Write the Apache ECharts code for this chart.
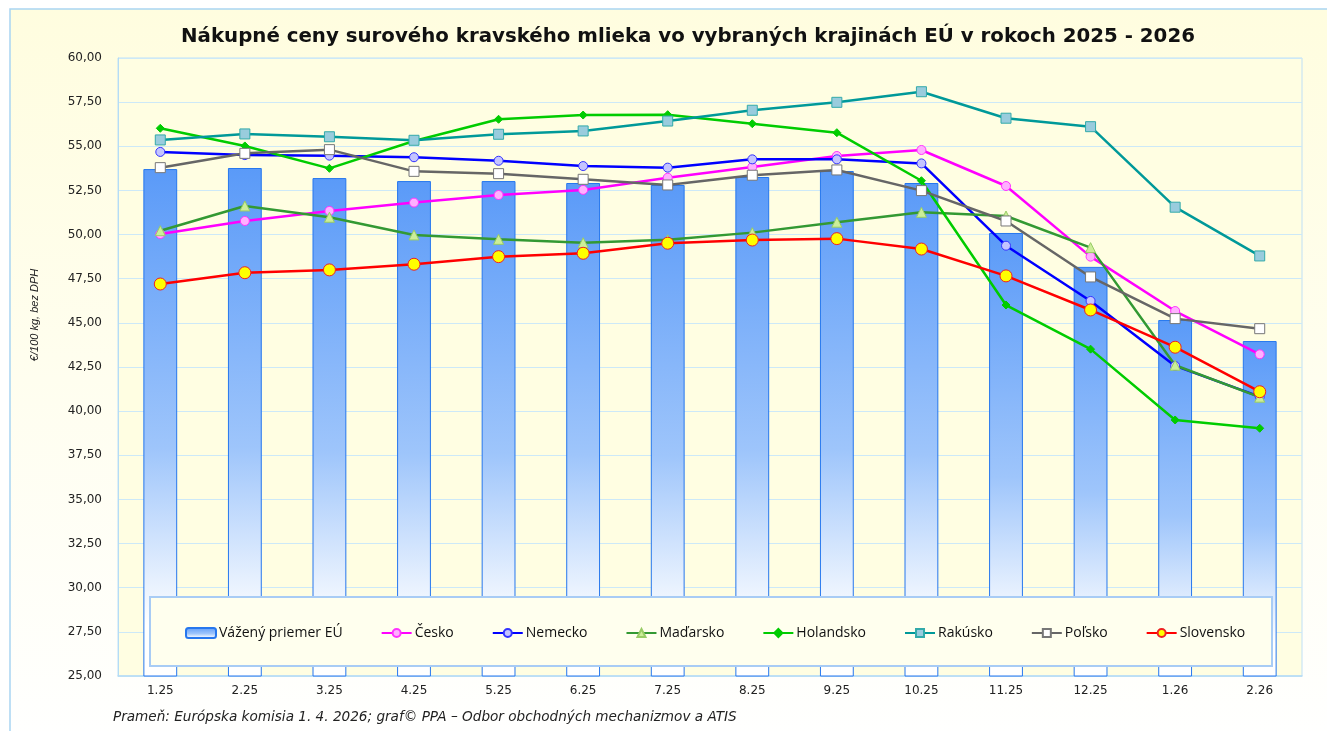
<!DOCTYPE html>
<html>
<head>
<meta charset="utf-8">
<script src="https://cdn.jsdelivr.net/npm/echarts@6/dist/echarts.min.js"></script>
<style>html,body{margin:0;padding:0;background:#fff}#c{width:1327px;height:731px}</style>
</head>
<body>
<div id="c"></div>
<script>
const categories = ['1.25','2.25','3.25','4.25','5.25','6.25','7.25','8.25','9.25','10.25','11.25','12.25','1.26','2.26'];
const euAvg     = [53.71,53.77,53.20,53.03,53.03,52.92,52.81,53.26,53.60,52.92,50.09,48.17,45.16,43.97];
const cesko     = [50.03,50.77,51.34,51.81,52.24,52.53,53.22,53.83,54.45,54.79,52.75,48.75,45.67,43.22];
const nemecko   = [54.68,54.50,54.47,54.38,54.18,53.88,53.79,54.26,54.26,54.03,49.37,46.24,42.56,40.82];
const madarsko  = [50.22,51.62,50.98,49.98,49.73,49.54,49.70,50.11,50.70,51.26,51.05,49.26,42.60,40.79];
const holandsko = [56.02,55.02,53.75,55.30,56.53,56.77,56.79,56.28,55.77,53.05,46.01,43.51,39.50,39.03];
const rakusko   = [55.36,55.70,55.54,55.34,55.68,55.87,56.43,57.04,57.49,58.09,56.59,56.11,51.55,48.79];
const polsko    = [53.79,54.60,54.81,53.58,53.45,53.13,52.81,53.36,53.66,52.49,50.77,47.60,45.24,44.67];
const slovensko = [47.20,47.84,48.00,48.32,48.75,48.94,49.51,49.69,49.77,49.18,47.66,45.73,43.62,41.10];
const names = ['Vážený priemer EÚ','Česko','Nemecko','Maďarsko','Holandsko','Rakúsko','Poľsko','Slovensko'];
const titleText = 'Nákupné ceny surového kravského mlieka vo vybraných krajinách EÚ v rokoch 2025 - 2026';
const yAxisName = '€/100 kg, bez DPH';
const sourceText = 'Prameň: Európska komisia 1. 4. 2026; graf© PPA – Odbor obchodných mechanizmov a ATIS';

function lineSeries(name, data, color, symbol, size, fill, border) {
  return {
    name: name, type: 'line', data: data, z: 3,
    symbol: symbol, symbolSize: size, showSymbol: true,
    lineStyle: {color: color, width: 2.5},
    itemStyle: {color: fill, borderColor: border, borderWidth: 1},
    emphasis: {disabled: true}
  };
}

const chart = echarts.init(document.getElementById('c'), null, {renderer: 'canvas'});
chart.setOption({
  backgroundColor: '#ffffff',
  animation: false,
  title: {
    text: titleText, left: 176, top: 22,
    textStyle: {fontFamily: 'DejaVu Sans', fontWeight: 'bold', fontSize: 19.8, color: '#111'}
  },
  graphic: [
    {type: 'rect', z: -10, shape: {x: 10, y: 9, width: 1340, height: 740},
     style: {fill: new echarts.graphic.LinearGradient(0,0,0,1,[{offset:0,color:'#FFFDDF'},{offset:1,color:'#FFFFFF'}]), stroke: '#A9D5F2', lineWidth: 1.5}},
    {type: 'rect', z: 5, shape: {x: 150, y: 597, width: 1122, height: 69},
     style: {fill: '#FFFFEE', stroke: '#A8CCF5', lineWidth: 2}},
    {type: 'text', z: 5, x: 35, y: 315, rotation: Math.PI/2,
     style: {text: yAxisName, fontFamily: 'Liberation Sans Narrow, Liberation Sans', fontStyle: 'italic', fontSize: 11, fill: '#222', align: 'center', verticalAlign: 'middle'}},
    {type: 'text', z: 5, x: 113, y: 717,
     style: {text: sourceText, fontFamily: 'DejaVu Sans', fontStyle: 'italic', fontSize: 13.6, fill: '#222', align: 'left', verticalAlign: 'middle'}}
  ],
  legend: {
    z: 10, left: 180, top: 621, itemGap: 38, itemWidth: 30, itemHeight: 10,
    data: names,
    textStyle: {fontFamily: 'Open Sans', fontSize: 14, color: '#111', padding: [0,0,0,-2]}
  },
  grid: {left: 118, right: 25, top: 58, bottom: 55, show: true, backgroundColor: '#FFFEE2', borderColor: '#BFE0F6', borderWidth: 1},
  xAxis: {
    type: 'category', data: categories, boundaryGap: true,
    axisLine: {lineStyle: {color: '#B5DCF5', width: 1.5}},
    axisTick: {show: false},
    axisLabel: {margin: 9, fontFamily: 'DejaVu Sans', fontSize: 12, color: '#222'}
  },
  yAxis: {
    type: 'value', min: 25, max: 60, interval: 2.5,
    axisLine: {show: true, lineStyle: {color: '#B5DCF5'}},
    axisTick: {show: false},
    splitLine: {lineStyle: {color: '#CDE9F8', width: 1}},
    axisLabel: {margin: 16, fontFamily: 'DejaVu Sans', fontSize: 12, color: '#222',
      formatter: v => v.toFixed(2).replace('.', ',')}
  },
  series: [
    {name: names[0], type: 'bar', data: euAvg, barWidth: '40%', z: 2,
     itemStyle: {color: new echarts.graphic.LinearGradient(0,0,0,1,[{offset:0,color:'#5A9AF8'},{offset:0.55,color:'#9EC5FB'},{offset:0.9,color:'#FFFFFF'},{offset:1,color:'#FFFFFF'}]),
       borderColor: '#2677EE', borderWidth: 1},
     emphasis: {disabled: true}},
    lineSeries(names[1], cesko, '#FF00FF', 'circle', 9, '#FFB0FF', '#FF33FF'),
    lineSeries(names[2], nemecko, '#0000FF', 'circle', 9, '#C4C4FF', '#3333FF'),
    lineSeries(names[3], madarsko, '#339933', 'triangle', 10, '#CCEE99', '#99CC66'),
    lineSeries(names[4], holandsko, '#00CC00', 'diamond', 8, '#00CC00', '#00CC00'),
    lineSeries(names[5], rakusko, '#009999', 'rect', 10, '#99CCDD', '#33AAAA'),
    lineSeries(names[6], polsko, '#666666', 'rect', 10, '#FFFFFF', '#777777'),
    lineSeries(names[7], slovensko, '#FF0000', 'circle', 12, '#FFFF00', '#EE2222')
  ]
});
</script>
</body>
</html>
